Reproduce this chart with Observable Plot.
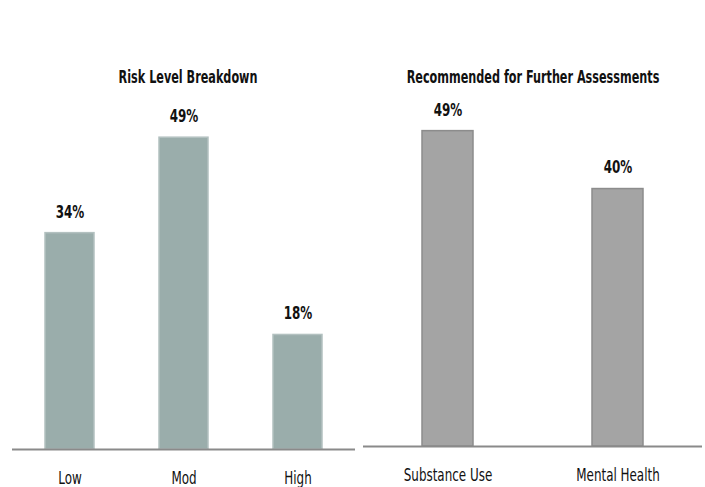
<!DOCTYPE html>
<html>
<head>
<meta charset="utf-8">
<script src="https://cdn.jsdelivr.net/npm/d3@7"></script>
<script src="https://cdn.jsdelivr.net/npm/@observablehq/plot@0.6"></script>
<style>
  html, body { margin: 0; padding: 0; background: #fff; }
  body { width: 705px; height: 487px; position: relative; overflow: hidden;
         font-family: "DejaVu Sans Condensed", "Liberation Sans Narrow", sans-serif; }
  .title { position: absolute; top: 67px; font-weight: bold; font-size: 16px; color: #111;
           text-align: center; white-space: nowrap; }
  .title span { display: inline-block; transform: scale(0.78, 1.12); }
  .panel { position: absolute; top: 90px; }
</style>
</head>
<body>
<div class="title" style="left:38px; width:300px;"><span>Risk Level Breakdown</span></div>
<div class="title" style="left:313px; width:440px;"><span>Recommended for Further Assessments</span></div>
<div id="left" class="panel" style="left:0;"></div>
<div id="right" class="panel" style="left:352px;"></div>
<script>
const riskCategories = ["Low", "Mod", "High"];
const riskValues = [34, 49, 18];
const assessCategories = ["Substance Use", "Mental Health"];
const assessValues = [49, 40];

const riskData = riskCategories.map((c, i) => ({category: c, value: riskValues[i]}));
const assessData = assessCategories.map((c, i) => ({category: c, value: assessValues[i]}));

const font = '"DejaVu Sans Condensed", "Liberation Sans Narrow", sans-serif';

function panel(data, categories, opts) {
  return Plot.plot({
    width: opts.width,
    height: 397,
    marginLeft: opts.marginLeft,
    marginRight: opts.marginRight,
    marginTop: opts.marginTop,
    marginBottom: opts.marginBottom,
    style: {fontFamily: font, fontSize: "17px", color: "#111", background: "transparent", overflow: "visible"},
    x: {domain: categories, paddingInner: opts.paddingInner, paddingOuter: opts.paddingOuter, label: null, tickSize: 0, tickPadding: 22},
    y: {domain: [0, 55], axis: null},
    marks: [
      Plot.barY(data, {x: "category", y: "value", fill: opts.fill, stroke: opts.stroke, strokeWidth: 1.5}),
      Plot.ruleY([0], {stroke: "#8a8a8a", strokeWidth: 2}),
      Plot.text(data, {x: "category", y: "value", text: d => d.value + "%", dy: -21,
        fontWeight: "bold", fontSize: 17, fill: "#111"})
    ]
  });
}

const leftSvg = panel(riskData, riskCategories, {
  width: 355, marginLeft: 12, marginRight: 0, marginTop: 9, marginBottom: 38,
  paddingInner: 0.571, paddingOuter: 0.289, fill: "#9aadab", stroke: "#b3c1c0"
});
const rightSvg = panel(assessData, assessCategories, {
  width: 353, marginLeft: 11, marginRight: 3, marginTop: 2, marginBottom: 41,
  paddingInner: 0.7, paddingOuter: 0.347, fill: "#a4a4a4", stroke: "#8c8c8c"
});
document.getElementById("left").append(leftSvg);
document.getElementById("right").append(rightSvg);
[leftSvg, rightSvg].forEach(svg => {
  svg.querySelectorAll("text").forEach(el => {
    const len = el.getComputedTextLength();
    if (len > 0) {
      el.setAttribute("textLength", (len * 0.78).toFixed(1));
      el.setAttribute("lengthAdjust", "spacingAndGlyphs");
    }
  });
});
</script>
</body>
</html>
